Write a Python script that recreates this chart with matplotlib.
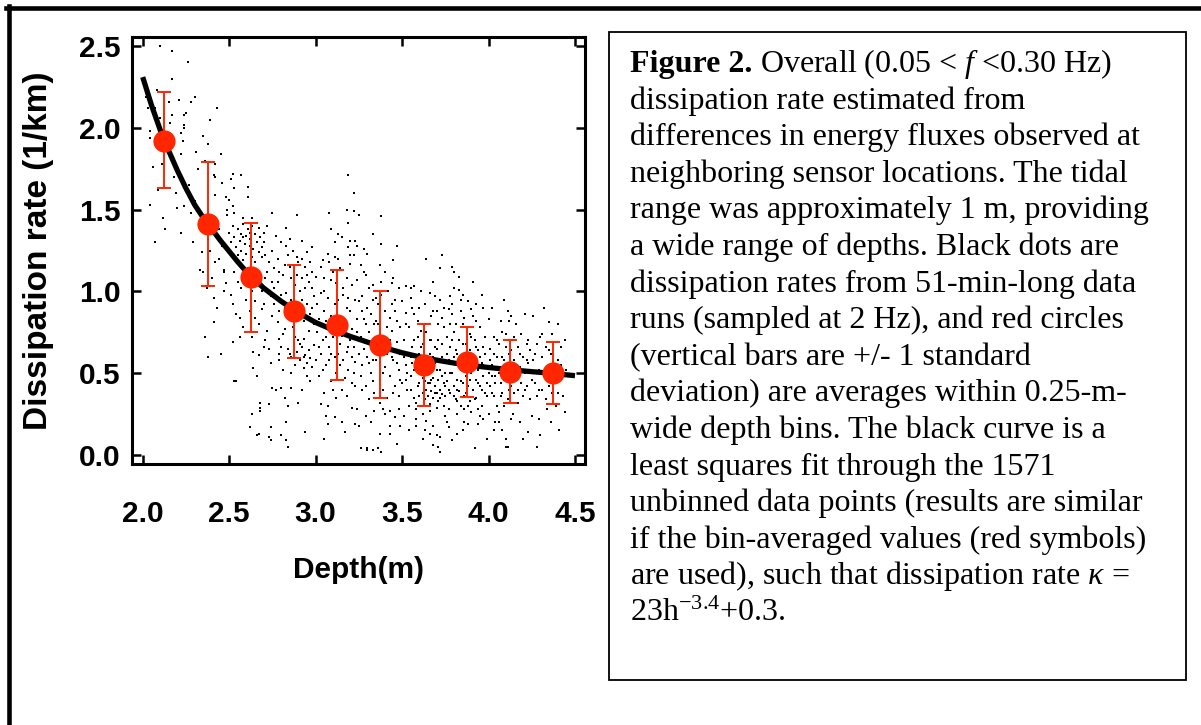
import matplotlib
matplotlib.use("Agg")
import matplotlib.pyplot as plt
from matplotlib.lines import Line2D
from matplotlib.patches import Rectangle

# fonts
plt.rcParams['font.family'] = ['Liberation Sans', 'DejaVu Sans']
plt.rcParams['mathtext.fontset'] = 'custom'
plt.rcParams['mathtext.rm'] = 'Liberation Serif'
plt.rcParams['mathtext.it'] = 'Liberation Serif:italic'
plt.rcParams['mathtext.bf'] = 'Liberation Serif:bold'

# ---- data (depth in m, dissipation rate in 1/km) ----
dots_a = [(2.10,2.50),(2.17,2.47),(2.17,2.30),(2.08,2.23),(2.15,2.16),(2.21,2.17),(2.17,2.08),(2.24,2.08),
          (2.25,2.09),(2.16,2.03),(2.24,2.02),(2.24,2.00),(2.22,1.97),(2.04,1.98),(2.04,1.94),(2.23,1.92),
          (2.22,1.84),(2.11,1.78),(2.02,2.19),(2.03,2.12),(2.10,2.06),(2.07,2.12),(2.09,1.62),(2.19,1.60),
          (2.04,1.53),(2.20,1.51),(2.24,1.52),(2.13,1.38),(2.22,1.36),(2.07,1.30),(2.12,1.45),(2.18,1.70),
          (2.06,1.76),(2.14,1.90)]
dots_b = [(2.26,2.40),(2.30,2.19),(2.28,2.16),(2.43,2.12),(2.39,2.05),(2.35,1.95),(2.38,1.90),(2.31,1.85),
          (2.45,1.84),(2.36,1.80),(2.42,1.78),(2.41,1.71),(2.42,1.70),(2.28,1.48),(2.42,1.59),(2.48,1.58),
          (2.49,1.50),(2.49,1.47),(2.34,1.24),(2.33,1.13),(2.35,1.12),(2.40,1.08),(2.42,1.18),(2.44,1.20),
          (2.47,1.12),(2.47,1.13),(2.47,1.00),(2.41,0.96),(2.41,0.81),(2.36,0.72),(2.38,0.60),(2.45,0.62),
          (2.30,1.55),(2.27,1.65),(2.33,1.42),(2.38,1.32),(2.44,1.38),(2.46,1.28),(2.39,1.25),(2.48,1.05),
          (2.43,0.90),(2.37,1.02),(2.32,1.75),(2.46,1.66),(2.29,1.30)]
dots_c = [(2.52,1.72),(2.57,1.71),(2.51,1.69),(2.50,1.56),(2.53,1.63),(2.61,1.64),(2.61,1.58),(2.52,1.52),
          (2.53,1.48),(2.58,1.45),(2.63,1.45),(2.75,1.48),(2.69,1.21),(2.73,1.18),(2.69,1.00),(2.74,0.97),
          (2.65,0.94),(2.69,0.89),(2.75,0.85),(2.65,0.84),(2.56,0.84),(2.54,0.86),(2.51,0.98),(2.55,1.06),
          (2.57,1.02),(2.63,1.00),(2.71,1.08),(2.75,1.06),(2.52,0.69),(2.56,0.72),(2.63,0.72),(2.53,0.45),
          (2.64,0.63),(2.67,0.61),(2.64,0.53),(2.66,0.48),(2.70,0.66),(2.71,0.70),(2.73,0.65),(2.74,0.56),
          (2.75,0.41),(2.68,0.32),(2.68,0.29),(2.68,0.27),(2.73,0.31),(2.63,0.25),(2.62,0.17),(2.74,0.17),
          (2.67,0.13),(2.66,0.12),(2.73,0.11),(2.74,0.09),(2.54,0.45),
          (2.50,1.36),(2.51,1.30),(2.52,1.40),(2.53,1.33),(2.54,1.27),(2.55,1.38),(2.55,1.22),(2.56,1.31),
          (2.57,1.35),(2.57,1.25),(2.58,1.41),(2.58,1.19),(2.59,1.29),(2.60,1.34),(2.60,1.23),(2.61,1.38),
          (2.62,1.28),(2.62,1.32),(2.63,1.21),(2.63,1.40),(2.64,1.26),(2.65,1.35),(2.65,1.18),(2.66,1.30),
          (2.67,1.24),(2.67,1.39),(2.68,1.33),(2.69,1.27),(2.70,1.36),(2.71,1.22),(2.56,1.16),(2.61,1.14),
          (2.59,1.10),(2.66,1.12),(2.53,1.12),(2.70,1.30),(2.62,1.36),(2.58,1.33),(2.54,1.20),(2.72,1.40),
          (2.60,0.95),(2.62,0.88),(2.58,0.78),(2.67,0.80),(2.70,0.92),(2.72,0.76),(2.59,1.05),(2.68,1.04),
          (2.52,0.92),(2.72,1.12)]
dots_d = [(2.77,1.34),(2.83,1.39),(2.83,1.28),(2.92,1.31),(2.98,1.27),(2.84,1.22),(2.89,1.21),(2.95,1.24),
          (2.94,1.15),(2.98,1.12),(2.92,1.08),(2.96,1.06),(2.88,1.04),(2.76,1.14),(2.76,0.92),(2.78,0.81),
          (2.78,1.06),(2.89,1.47),(2.79,0.71),(2.80,0.66),(2.79,0.62),(2.79,0.58),(2.84,0.65),(2.85,0.62),
          (2.81,0.74),(2.77,0.40),(2.80,0.41),(2.86,0.41),(2.92,0.40),(2.82,0.35),(2.90,0.32),(2.84,0.30),
          (2.83,0.20),(2.80,0.12),(2.83,0.09),(2.84,0.05),(2.94,0.14),(2.90,0.70),(2.91,0.68),(2.86,0.60),
          (2.88,0.55),(2.89,0.63),(2.91,0.58),(2.92,0.66),(2.93,0.53),(2.94,0.61),(2.95,0.56),(2.96,0.64),
          (2.97,0.59),(2.98,0.54),(2.99,0.67),(2.93,0.60),
          (2.80,0.98),(2.82,0.90),(2.84,0.84),(2.86,0.95),(2.87,0.78),(2.90,0.88),(2.91,1.00),(2.93,0.82),
          (2.95,0.92),(2.97,0.86),(2.99,0.97),(2.81,1.10),(2.85,1.15),(2.88,0.72),(2.92,0.95),(2.96,0.76),
          (2.79,0.88),(2.83,0.99),(2.89,1.10),(2.94,1.02),(2.97,1.18),(2.86,1.08),(2.99,0.80),(2.78,0.95),
          (2.82,0.77),(2.87,0.90),(2.93,0.71),(2.98,0.90),(2.95,0.48),(2.86,0.50),(2.81,0.52),(2.97,0.45),
          (2.75,1.25),(2.78,1.20),(2.80,1.30),(2.82,1.16),(2.85,1.32),(2.87,1.25),(2.90,1.18),(2.92,1.20),
          (2.95,1.10),(2.98,1.02),(2.76,1.02),(2.79,1.12)]
dots_e = [(3.22,1.60),(3.18,1.50),(3.22,1.49),(3.08,1.48),(3.19,1.71),(3.19,1.42),(3.09,1.38),(3.13,1.35),
          (3.15,1.33),(3.11,1.30),(3.20,1.31),(3.23,1.31),(3.19,1.27),(3.24,1.28),(3.07,1.23),(3.11,1.21),
          (3.13,1.20),(3.20,1.22),(3.22,1.22),(3.04,1.19),(3.20,1.17),(3.08,1.18),(3.10,1.12),(3.14,1.14),
          (3.00,1.09),(3.05,1.08),(3.09,1.07),(3.18,1.08),(3.24,1.07),(3.16,0.98),(3.19,0.96),(3.18,0.90),
          (3.24,0.83),(3.07,0.96),(3.03,0.99),(3.01,0.92),(3.05,0.88),(3.09,0.85),(3.02,0.83),(3.05,0.10),
          (3.17,0.14),(3.06,0.24),(3.07,0.19),(3.15,0.20),(3.23,0.19),(3.11,0.23),(3.03,0.31),(3.07,0.30),
          (3.21,0.29),(3.24,0.28),
          (3.01,0.75),(3.03,0.62),(3.04,0.70),(3.06,0.55),(3.08,0.66),(3.09,0.45),(3.10,0.72),(3.11,0.60),
          (3.12,0.50),(3.13,0.78),(3.14,0.68),(3.15,0.40),(3.16,0.58),(3.17,0.74),(3.18,0.63),(3.19,0.52),
          (3.20,0.70),(3.21,0.44),(3.22,0.66),(3.23,0.57),(3.24,0.75),(3.02,0.48),(3.05,0.38),(3.12,0.35),
          (3.18,0.36),(3.22,0.50),(3.00,0.58),(3.14,0.85),(3.11,0.92),(3.20,0.88),(3.07,0.78),(3.16,1.02),
          (3.23,0.95),(3.12,1.05),(3.03,1.15),(3.17,0.80),(3.09,0.62),(3.21,0.60),(3.14,0.55),(3.06,0.82)]
dots_f = [(3.25,1.47),(3.38,1.46),(3.33,1.35),(3.38,1.29),(3.47,1.28),(3.28,1.26),(3.30,1.23),(3.26,1.16),
          (3.45,1.19),(3.37,1.16),(3.28,1.12),(3.31,1.02),(3.33,1.04),(3.38,1.06),(3.48,1.02),(3.33,0.95),
          (3.35,0.96),(3.27,0.97),(3.25,0.94),(3.28,0.83),(3.29,0.80),(3.44,0.92),(3.46,0.88),(3.43,0.84),
          (3.47,0.82),(3.50,0.94),(3.26,0.04),(3.30,0.04),(3.33,0.03),(3.36,0.04),(3.38,0.02),(3.37,0.13),
          (3.43,0.13),(3.47,0.07),(3.49,0.18),(3.46,0.23),(3.43,0.18),(3.43,0.27),(3.29,0.24),(3.34,0.27),
          (3.39,0.28),(3.25,0.18),(3.30,0.03),
          (3.26,0.72),(3.27,0.55),(3.28,0.65),(3.29,0.42),(3.30,0.60),(3.31,0.75),(3.32,0.50),(3.33,0.68),
          (3.34,0.38),(3.35,0.58),(3.36,0.80),(3.37,0.46),(3.38,0.63),(3.39,0.72),(3.40,0.54),(3.41,0.35),
          (3.42,0.66),(3.43,0.48),(3.44,0.76),(3.45,0.58),(3.46,0.42),(3.47,0.69),(3.48,0.52),(3.49,0.62),
          (3.50,0.44),(3.27,0.88),(3.32,0.86),(3.36,0.92),(3.40,0.88),(3.42,1.00),(3.45,1.08),(3.31,0.34),
          (3.37,0.32),(3.41,0.78),(3.35,0.70),(3.39,0.50),(3.44,0.60),(3.48,0.36),(3.26,0.48),(3.33,0.58),
          (3.46,0.95),(3.29,1.10),(3.40,1.12),(3.34,0.80),(3.49,0.78)]
dots_g = [(3.64,1.20),(3.73,1.22),(3.72,1.14),(3.68,1.06),(3.52,1.03),(3.55,1.02),(3.57,1.03),(3.61,1.00),
          (3.66,0.99),(3.69,0.97),(3.72,0.95),(3.73,0.84),(3.68,0.88),(3.63,0.92),(3.55,0.96),(3.52,0.87),
          (3.57,0.86),(3.51,0.24),(3.58,0.18),(3.63,0.15),(3.66,0.13),(3.68,0.06),(3.71,0.05),(3.72,0.02),
          (3.72,0.11),
          (3.51,0.70),(3.52,0.55),(3.53,0.62),(3.53,0.40),(3.54,0.78),(3.55,0.48),(3.56,0.66),(3.57,0.35),
          (3.58,0.58),(3.59,0.72),(3.60,0.44),(3.60,0.62),(3.61,0.52),(3.62,0.38),(3.62,0.68),(3.63,0.45),
          (3.64,0.75),(3.64,0.40),(3.65,0.50),(3.65,0.36),(3.66,0.62),(3.66,0.44),(3.67,0.39),(3.67,0.70),
          (3.68,0.47),(3.68,0.35),(3.69,0.56),(3.69,0.42),(3.70,0.38),(3.70,0.65),(3.71,0.46),(3.71,0.33),
          (3.72,0.52),(3.72,0.40),(3.73,0.60),(3.73,0.37),(3.74,0.44),(3.74,0.78),(3.75,0.50),(3.75,0.36),
          (3.54,0.30),(3.58,0.28),(3.61,0.30),(3.66,0.27),(3.70,0.29),(3.56,0.90),(3.59,0.82),(3.63,0.80),
          (3.67,0.85),(3.71,0.80),(3.74,0.90),(3.52,0.46),(3.57,0.52),(3.61,0.76),(3.65,0.58),(3.69,0.66),
          (3.73,0.68),(3.55,0.60),(3.59,0.42),(3.63,0.56),(3.67,0.54),(3.71,0.58),(3.58,0.22),(3.64,0.21),
          (3.68,0.18),(3.62,0.10),(3.54,0.15),(3.70,0.12),(3.75,0.24)]
dots_h = [(3.79,1.15),(3.80,1.12),(3.83,1.09),(3.91,1.06),(3.78,0.97),(3.80,1.02),(3.83,1.01),(3.84,0.95),
          (3.90,0.89),(3.77,0.89),(3.79,0.86),(3.91,0.85),(3.77,0.17),(3.79,0.09),(3.82,0.13),(3.88,0.19),
          (3.92,0.04),(3.94,0.19),(3.95,0.24),
          (3.76,0.72),(3.76,0.45),(3.77,0.58),(3.78,0.38),(3.78,0.66),(3.79,0.50),(3.80,0.42),(3.80,0.75),
          (3.81,0.55),(3.81,0.34),(3.82,0.62),(3.82,0.46),(3.83,0.70),(3.83,0.39),(3.84,0.52),(3.85,0.44),
          (3.85,0.80),(3.86,0.60),(3.86,0.36),(3.87,0.48),(3.87,0.68),(3.88,0.42),(3.88,0.56),(3.89,0.74),
          (3.89,0.33),(3.90,0.50),(3.90,0.62),(3.91,0.40),(3.92,0.58),(3.92,0.70),(3.93,0.46),(3.93,0.35),
          (3.94,0.64),(3.94,0.52),(3.95,0.78),(3.95,0.42),(3.96,0.56),(3.96,0.30),(3.97,0.66),(3.97,0.48),
          (3.98,0.38),(3.98,0.72),(3.99,0.54),(3.99,0.44),(3.77,0.28),(3.82,0.25),(3.86,0.28),(3.90,0.26),
          (3.97,0.22),(3.79,0.92),(3.84,0.88),(3.88,0.94),(3.93,0.82),(3.97,0.90),(3.81,0.80),(3.86,0.84),
          (3.96,0.98),(3.85,0.15),(3.99,0.10),(3.80,0.60),(3.89,0.64),(3.84,0.30)]
dots_i = [(4.00,0.83),(4.07,0.82),(4.11,0.88),(4.12,0.82),(4.04,0.20),(4.06,0.20),(4.10,0.10),(4.10,0.05),
          (4.13,0.22),(4.23,0.14),(4.11,0.05),(4.13,0.85),
          (4.01,0.65),(4.01,0.42),(4.02,0.55),(4.03,0.72),(4.03,0.36),(4.04,0.48),(4.05,0.60),(4.05,0.30),
          (4.06,0.68),(4.07,0.44),(4.07,0.52),(4.08,0.75),(4.08,0.38),(4.09,0.58),(4.10,0.46),(4.10,0.66),
          (4.11,0.34),(4.12,0.54),(4.12,0.62),(4.13,0.42),(4.14,0.70),(4.14,0.50),(4.15,0.38),(4.15,0.58),
          (4.16,0.46),(4.17,0.66),(4.17,0.32),(4.18,0.54),(4.19,0.44),(4.19,0.74),(4.20,0.60),(4.20,0.36),
          (4.21,0.50),(4.22,0.68),(4.22,0.42),(4.23,0.56),(4.24,0.34),(4.24,0.64),(4.02,0.90),(4.09,0.95),
          (4.16,0.80),(4.21,0.86),(4.06,0.26),(4.14,0.25),(4.18,0.20),(4.25,0.24),(4.03,0.15),(4.20,0.10),
          (4.09,0.30),(4.02,0.48)]
dots_j = [(4.44,0.26),(4.35,0.81),(4.28,0.68),(4.28,0.05),
          (4.26,0.58),(4.27,0.44),(4.28,0.36),(4.29,0.52),(4.30,0.72),(4.31,0.40),(4.31,0.60),(4.32,0.48),
          (4.33,0.34),(4.33,0.66),(4.34,0.54),(4.35,0.42),(4.36,0.62),(4.37,0.38),(4.37,0.74),(4.38,0.50),
          (4.39,0.30),(4.40,0.58),(4.41,0.45),(4.42,0.66),(4.43,0.36),(4.45,0.52),(4.26,0.85),(4.32,0.90),
          (4.29,0.22),(4.36,0.20),(4.41,0.15),(4.30,0.12),(4.40,0.80),(4.34,0.28)]
dots_k = [(3.02,0.66),(3.04,0.52),(3.06,0.72),(3.08,0.58),(3.10,0.40),(3.13,0.62),(3.15,0.73),(3.17,0.47),
          (3.19,0.66),(3.21,0.77),(3.23,0.42),(3.25,0.62),(3.27,0.40),(3.29,0.70),(3.31,0.56),(3.33,0.45),
          (3.35,0.82),(3.37,0.60),(3.39,0.40),(3.41,0.62),(3.43,0.70),(3.45,0.38),(3.47,0.56),(3.49,0.46),
          (3.51,0.60),(3.53,0.50),(3.55,0.40),(3.56,0.56),(3.57,0.70),(3.59,0.50),(3.60,0.36),(3.61,0.66),
          (3.62,0.47),(3.63,0.34),(3.64,0.58),(3.65,0.44),(3.66,0.70),(3.67,0.46),(3.68,0.60),(3.69,0.38),
          (3.70,0.52),(3.71,0.70),(3.72,0.35),(3.73,0.48),(3.74,0.56),(3.75,0.42),(3.76,0.62),(3.77,0.40),
          (3.78,0.50),(3.79,0.70),(3.80,0.36),(3.81,0.64),(3.82,0.40),(3.83,0.56),(3.84,0.45),(3.85,0.68),
          (3.86,0.52),(3.87,0.38),(3.88,0.62),(3.89,0.46),(3.90,0.72),(3.91,0.55),(3.92,0.34),(3.93,0.66),
          (3.94,0.44),(3.95,0.60),(3.96,0.40),(3.97,0.55),(3.98,0.62),(3.99,0.36),(4.00,0.50),(4.01,0.58),
          (4.02,0.38),(4.03,0.62),(4.04,0.44),(4.05,0.70),(4.06,0.50),(4.07,0.36),(4.08,0.60),(4.09,0.46),
          (4.10,0.74),(4.11,0.56),(4.12,0.40),(4.13,0.64),(4.14,0.46),(4.15,0.72),(4.16,0.54),(4.17,0.40),
          (4.18,0.62),(4.19,0.52),(4.21,0.40),(4.22,0.58),(4.23,0.70),(4.25,0.46),(4.27,0.62),(4.29,0.40),
          (4.31,0.74),(4.33,0.50),(4.35,0.64),(4.38,0.44),(4.40,0.38),(4.42,0.55),(4.44,0.70),(3.58,0.32),
          (3.66,0.31),(3.74,0.30),(3.82,0.33),(3.88,0.30),(3.94,0.28),(4.00,0.25),(3.48,0.28),(3.40,0.25),
          (3.32,0.20),(3.62,0.25),(3.76,0.20),(3.86,0.20),(4.08,0.15),(3.05,1.00),(3.13,0.95),(3.21,1.04),
          (3.30,0.90),(3.38,0.98),(3.44,1.05),(3.52,0.80),(3.60,0.90),(3.70,0.88),(3.78,0.80),(3.85,0.98),
          (3.93,0.92)]

# bin averages (0.25 m bins) and +/- 1 std
bin_depth = [2.125, 2.375, 2.625, 2.875, 3.125, 3.375, 3.625, 3.875, 4.125, 4.375]
bin_mean  = [1.92, 1.41, 1.09, 0.88, 0.795, 0.67, 0.55, 0.57, 0.51, 0.50]
bin_upper = [2.22, 1.79, 1.42, 1.16, 1.13, 1.00, 0.80, 0.78, 0.70, 0.69]
bin_lower = [1.63, 1.03, 0.75, 0.59, 0.46, 0.35, 0.30, 0.355, 0.32, 0.31]

# least squares fit curve as drawn
fit_depth = [2.00, 2.05, 2.10, 2.15, 2.20, 2.25, 2.30, 2.35, 2.40, 2.45, 2.50, 2.55, 2.60,
             2.70, 2.80, 2.90, 3.00, 3.10, 3.20, 3.30, 3.40, 3.50, 3.60, 3.70, 3.80, 3.90,
             4.00, 4.10, 4.20, 4.30, 4.40, 4.50]
fit_rate  = [2.31, 2.14, 1.99, 1.86, 1.74, 1.63, 1.53, 1.45, 1.38, 1.31, 1.245, 1.18, 1.12,
             1.02, 0.94, 0.87, 0.81, 0.765, 0.725, 0.69, 0.655, 0.625, 0.60, 0.58, 0.562, 0.547,
             0.535, 0.524, 0.514, 0.505, 0.495, 0.485]

x_ticks = [2.0, 2.5, 3.0, 3.5, 4.0, 4.5]
y_ticks = [0.0, 0.5, 1.0, 1.5, 2.0, 2.5]

caption_head = "Figure 2."
caption_lines = [
    r" Overall (0.05 < $f$ <0.30 Hz)",
    "dissipation rate estimated from",
    "differences in energy fluxes observed at",
    "neighboring sensor locations. The tidal",
    "range was approximately 1 m, providing",
    "a wide range of depths. Black dots are",
    "dissipation rates from 51-min-long data",
    "runs (sampled at 2 Hz), and red circles",
    "(vertical bars are +/- 1 standard",
    "deviation) are averages within 0.25-m-",
    "wide depth bins. The black curve is a",
    "least squares fit through the 1571",
    "unbinned data points (results are similar",
    "if the bin-averaged values (red symbols)",
    r"are used), such that dissipation rate $\kappa$ =",
    r"23h$^{-3.4}$+0.3.",
]

W, H = 1201, 725
fig = plt.figure(figsize=(W / 100, H / 100), dpi=100)
ax = fig.add_axes([131.5 / W, 1 - 464 / H, 453.5 / W, 427 / H])

all_dots = (dots_a + dots_b + dots_c + dots_d + dots_e + dots_f + dots_g + dots_h
            + dots_i + dots_j + dots_k)
ax.scatter([p[0] for p in all_dots], [p[1] for p in all_dots], s=4.5, c='black',
           marker='s', linewidths=0, zorder=2)

ax.plot(fit_depth, fit_rate, color='black', lw=3.8, solid_capstyle='butt',
        solid_joinstyle='round', zorder=3)

red = '#ff2600'
yerr = [[m - lo for m, lo in zip(bin_mean, bin_lower)],
        [hi - m for m, hi in zip(bin_mean, bin_upper)]]
ax.errorbar(bin_depth, bin_mean, yerr=yerr, fmt='none', ecolor=red, elinewidth=1.4,
            capsize=5, capthick=1.4, zorder=4)
ax.plot(bin_depth, bin_mean, 'o', color=red, ms=16, mec='none', zorder=5)

ax.set_xlim(1.935, 4.558)
ax.set_ylim(-0.055, 2.555)
ax.set_xticks(x_ticks)
ax.set_yticks(y_ticks)
ax.set_xticklabels([f"{v:.1f}" for v in x_ticks])
ax.set_yticklabels([f"{v:.1f}" for v in y_ticks])
ax.tick_params(direction='in', length=6.5, width=1.8, top=True, right=True,
               labelsize=21.5)
ax.tick_params(axis='x', pad=26)
ax.tick_params(axis='y', pad=8)
for lab in ax.get_xticklabels() + ax.get_yticklabels():
    lab.set_fontweight('bold')
for sp in ax.spines.values():
    sp.set_linewidth(2.2)

ax.set_xlabel("Depth(m)", fontsize=21.5, fontweight='bold')
ax.xaxis.set_label_coords(0.5, -0.215)
ax.set_ylabel("Dissipation rate (1/km)", fontsize=24, fontweight='bold', va='center')
ax.yaxis.set_label_coords(-0.206, 0.5)

# outer frame (top and left edges)
fig.add_artist(Line2D([6 / W, 1.0], [1 - 8 / H, 1 - 8 / H], color='black', lw=3.3))
fig.add_artist(Line2D([9 / W, 9 / W], [0.0, 1 - 6 / H], color='black', lw=3.3))

# caption box
fig.add_artist(Rectangle((609 / W, 1 - 680 / H), (1186 - 609) / W, (680 - 31.5) / H,
                         transform=fig.transFigure, fill=False, ec='black', lw=1.3))
serif = ['Liberation Serif', 'DejaVu Serif']
head = fig.text(630 / W, 1 - 72 / H, caption_head, fontsize=23, fontweight='bold',
                va='baseline', ha='left', family=serif)
fig.canvas.draw()
head_end = head.get_window_extent().x1 / W
for i, line in enumerate(caption_lines):
    x0 = head_end if i == 0 else 630 / W
    fig.text(x0, 1 - (72 + i * 36.6) / H, line, fontsize=23, va='baseline', ha='left',
             family=serif)

fig.savefig("out.png", dpi=100)
